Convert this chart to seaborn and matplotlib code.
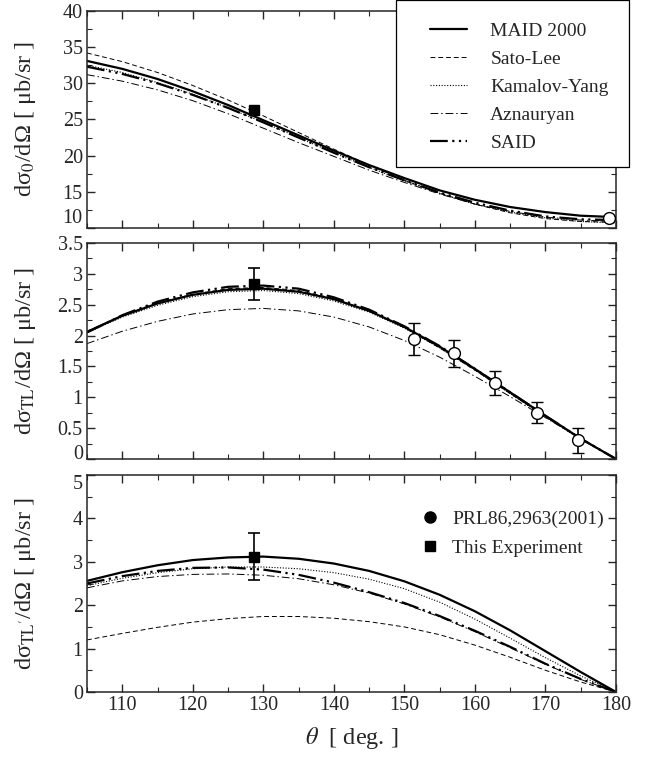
import numpy as np
import pandas as pd
import seaborn as sns
import matplotlib.pyplot as plt
from matplotlib.lines import Line2D
from matplotlib.patches import Rectangle
from matplotlib.ticker import MultipleLocator, FuncFormatter

# angles of the model curves
theta = [105, 110, 115, 120, 125, 130, 135, 140, 145, 150, 155, 160, 165, 170, 175, 180]

# d sigma_0 / d Omega
s0_maid = [33.1, 32.0, 30.6, 28.9, 27.0, 24.9, 22.8, 20.7, 18.7, 16.9, 15.2, 13.9, 12.9, 12.2, 11.7, 11.5]
s0_sato = [34.2, 33.0, 31.5, 29.7, 27.7, 25.5, 23.2, 20.9, 18.7, 16.6, 14.8, 13.3, 12.1, 11.3, 10.9, 10.8]
s0_kamalov = [32.5, 31.5, 30.1, 28.5, 26.6, 24.6, 22.5, 20.4, 18.4, 16.5, 14.8, 13.3, 12.2, 11.4, 10.9, 10.7]
s0_azn = [31.2, 30.3, 29.1, 27.6, 25.8, 23.8, 21.8, 19.9, 18.0, 16.3, 14.7, 13.3, 12.3, 11.5, 11.1, 10.9]
s0_said = [32.3, 31.3, 30.0, 28.4, 26.6, 24.6, 22.5, 20.4, 18.4, 16.6, 14.9, 13.5, 12.4, 11.6, 11.2, 11.1]

# d sigma_TL / d Omega
tl_maid = [2.06, 2.32, 2.52, 2.66, 2.74, 2.76, 2.71, 2.59, 2.40, 2.14, 1.82, 1.46, 1.08, 0.70, 0.33, 0.0]
tl_sato = [2.07, 2.33, 2.53, 2.67, 2.76, 2.78, 2.73, 2.60, 2.40, 2.13, 1.80, 1.44, 1.06, 0.69, 0.33, 0.0]
tl_kamalov = [2.05, 2.30, 2.49, 2.63, 2.71, 2.73, 2.68, 2.56, 2.38, 2.12, 1.80, 1.44, 1.06, 0.68, 0.32, 0.0]
tl_azn = [1.87, 2.07, 2.23, 2.35, 2.42, 2.44, 2.40, 2.30, 2.14, 1.92, 1.65, 1.34, 1.01, 0.67, 0.33, 0.0]
tl_said = [2.05, 2.33, 2.55, 2.70, 2.79, 2.81, 2.76, 2.62, 2.42, 2.15, 1.83, 1.46, 1.08, 0.70, 0.33, 0.0]

# d sigma_TL' / d Omega
tlp_maid = [2.56, 2.76, 2.92, 3.04, 3.10, 3.12, 3.07, 2.96, 2.79, 2.55, 2.24, 1.86, 1.42, 0.94, 0.46, 0.0]
tlp_sato = [1.20, 1.35, 1.49, 1.61, 1.69, 1.74, 1.74, 1.70, 1.62, 1.50, 1.32, 1.08, 0.80, 0.50, 0.23, 0.0]
tlp_kamalov = [2.45, 2.62, 2.75, 2.84, 2.88, 2.88, 2.84, 2.75, 2.60, 2.38, 2.07, 1.68, 1.24, 0.79, 0.37, 0.0]
tlp_azn = [2.40, 2.56, 2.66, 2.71, 2.72, 2.69, 2.61, 2.47, 2.28, 2.03, 1.73, 1.39, 1.02, 0.64, 0.29, 0.0]
tlp_said = [2.50, 2.67, 2.79, 2.86, 2.87, 2.82, 2.70, 2.52, 2.30, 2.05, 1.75, 1.41, 1.04, 0.65, 0.30, 0.0]

# this experiment (square) and PRL86,2963(2001) (open circles)
exp_theta = 128.7
exp_s0 = 26.3
exp_tl, exp_tl_err = 2.84, 0.26
exp_tlp, exp_tlp_err = 3.12, 0.54

prl_s0_theta = [179.0]
prl_s0 = [11.35]
prl_tl_theta = [151.4, 157.1, 162.9, 168.8, 174.6]
prl_tl = [1.94, 1.71, 1.23, 0.75, 0.30]
prl_tl_err = [0.26, 0.22, 0.19, 0.17, 0.20]

models = ["MAID 2000", "Sato-Lee", "Kamalov-Yang", "Aznauryan", "SAID"]
styles = {
    "MAID 2000": dict(linestyle="-", linewidth=1.6),
    "Sato-Lee": dict(linestyle=(0, (5, 3)), linewidth=0.7),
    "Kamalov-Yang": dict(linestyle=(0, (1, 1.5)), linewidth=0.8),
    "Aznauryan": dict(linestyle=(0, (8, 3, 1.5, 3)), linewidth=0.7),
    "SAID": dict(linestyle=(0, (8, 2, 1, 2, 1, 2)), linewidth=1.6),
}

sns.set_style("ticks")
plt.rcParams["font.family"] = ["Liberation Serif", "DejaVu Serif"]
plt.rcParams["mathtext.fontset"] = "stix"
plt.rcParams["axes.linewidth"] = 1.1

fig = plt.figure(figsize=(6.53, 7.58), dpi=100)
left, width = 87 / 653, 529 / 653
ax0 = fig.add_axes([left, 1 - 228 / 758, width, 217 / 758])
ax1 = fig.add_axes([left, 1 - 459 / 758, width, 216 / 758])
ax2 = fig.add_axes([left, 1 - 692 / 758, width, 217 / 758])

panels = [
    (ax0, [s0_maid, s0_sato, s0_kamalov, s0_azn, s0_said]),
    (ax1, [tl_maid, tl_sato, tl_kamalov, tl_azn, tl_said]),
    (ax2, [tlp_maid, tlp_sato, tlp_kamalov, tlp_azn, tlp_said]),
]
for ax, curves in panels:
    for name, vals in zip(models, curves):
        df = pd.DataFrame({"theta": theta, "val": vals})
        sns.lineplot(data=df, x="theta", y="val", ax=ax, color="black", **styles[name])

# data points
ax0.plot([exp_theta], [exp_s0], "s", color="black", ms=7.5, zorder=5)
ax0.plot(prl_s0_theta, prl_s0, "o", mfc="white", mec="black", ms=8.5, mew=1.0, zorder=5, clip_on=False)

ax1.errorbar(prl_tl_theta, prl_tl, yerr=prl_tl_err, fmt="o", mfc="white", mec="black",
             ecolor="black", ms=8.5, mew=1.0, capsize=4, elinewidth=1.2, capthick=1.2, zorder=5)
ax1.errorbar([exp_theta], [exp_tl], yerr=[exp_tl_err], fmt="s", color="black", ms=7.5,
             capsize=4, elinewidth=1.2, capthick=1.2, zorder=6)

ax2.errorbar([exp_theta], [exp_tlp], yerr=[exp_tlp_err], fmt="s", color="black", ms=7.5,
             capsize=4, elinewidth=1.2, capthick=1.2, zorder=6)

fmt = FuncFormatter(lambda v, p: "%g" % v)
limits = [(10, 40, 5, 2.5), (0, 3.5, 0.5, 0.25), (0, 5, 1, 0.5)]
ylabels = ["dσ$_0$/dΩ [ μb/sr ]",
           r"dσ$_{\rm TL}$/dΩ [ μb/sr ]",
           r"dσ$_{\rm TL'}$/dΩ [ μb/sr ]"]
for ax, (lo, hi, maj, mnr), lab in zip([ax0, ax1, ax2], limits, ylabels):
    ax.set_xlim(105, 180)
    ax.set_ylim(lo, hi)
    ax.xaxis.set_major_locator(MultipleLocator(10))
    ax.xaxis.set_minor_locator(MultipleLocator(5))
    ax.yaxis.set_major_locator(MultipleLocator(maj))
    ax.yaxis.set_minor_locator(MultipleLocator(mnr))
    ax.yaxis.set_major_formatter(fmt)
    ax.tick_params(which="both", direction="in", top=True, right=True, labelsize=14.5, pad=3)
    ax.tick_params(which="major", length=6, width=1.0)
    ax.tick_params(which="minor", length=3.5, width=0.8)
    ax.set_ylabel(lab, fontsize=17.5)
    ax.yaxis.set_label_coords(-0.093, 0.5)
    ax.set_xlabel("")
    for s in ax.spines.values():
        s.set_visible(True)
        s.set_linewidth(1.1)
ax0.tick_params(labelbottom=False)
ax1.tick_params(labelbottom=False)
ax2.set_xlabel(r"$\theta$  [ deg. ]", fontsize=17.5, labelpad=7)

# nudge the crowded tick labels where the panels meet
fig.canvas.draw()
def set_tick_va(ax, value, va):
    for tick in ax.yaxis.get_major_ticks():
        if abs(tick.get_loc() - value) < 1e-9:
            tick.label1.set_va(va)

set_tick_va(ax0, 10, "bottom")
set_tick_va(ax1, 0, "baseline")
set_tick_va(ax2, 5, "top")

# model legend (top panel), framed box reaching past the axes
fig.add_artist(Rectangle((396 / 653, 1 - 167 / 758), 233 / 653, 167 / 758,
                         transform=fig.transFigure, facecolor="white", edgecolor="black",
                         linewidth=0.9, zorder=4))
handles = [Line2D([], [], color="black", **styles[m]) for m in models]
leg = fig.legend(handles, models, loc="upper left", bbox_to_anchor=(430 / 653, 1 - 22 / 758),
                 fontsize=14, frameon=False, borderpad=0, labelspacing=0.54,
                 handlelength=1.9, handletextpad=1.2, borderaxespad=0)
leg.set_zorder(5)

# data legend (bottom panel)
dhandles = [Line2D([], [], marker="o", color="black", ls="", ms=8),
            Line2D([], [], marker="s", color="black", ls="", ms=6.5)]
ax2.legend(dhandles, ["PRL86,2963(2001)", "This Experiment"], loc="upper left",
           bbox_to_anchor=(420 / 653, 1 - 510 / 758), bbox_transform=fig.transFigure,
           frameon=False, fontsize=14, handletextpad=0.65, labelspacing=0.6,
           borderaxespad=0, borderpad=0, handlelength=1.0)

fig.savefig("out.png", dpi=100)
